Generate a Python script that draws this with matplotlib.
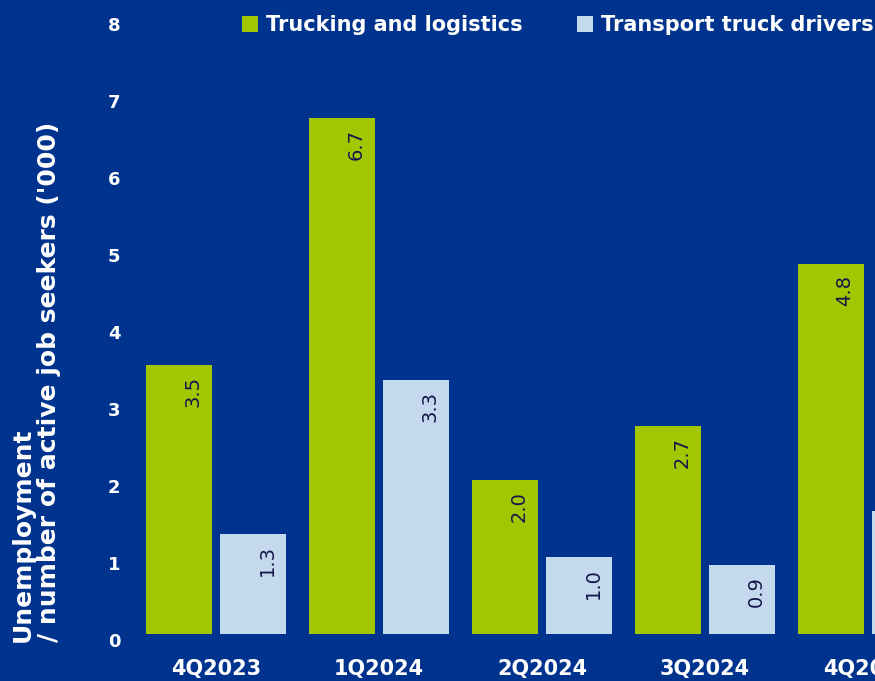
import numpy as np
import matplotlib.pyplot as plt
from matplotlib.transforms import ScaledTranslation

# data
quarters = ["4Q2023", "1Q2024", "2Q2024", "3Q2024", "4Q2024"]
trucking = [3.5, 6.7, 2.0, 2.7, 4.8]
drivers = [1.3, 3.3, 1.0, 0.9, 1.6]

BG = "#00338d"
GREEN = "#a2c600"
LIGHT = "#c5d9ee"
DARK = "#14164a"

plt.rcParams["font.family"] = ["DejaVu Sans"]

fig = plt.figure(figsize=(8.75, 6.81), dpi=100, facecolor=BG)
W, H = 875, 681
left, right, bottom, top = 130, 875, 634, 18
ax = fig.add_axes([left / W, 1 - bottom / H, (right - left) / W, (bottom - top) / H])
ax.set_facecolor(BG)

x = np.arange(len(quarters))
off = 37 / 163
bw = 66 / 163
ax.bar(x - off, trucking, bw, color=GREEN, label="Trucking and logistics")
ax.bar(x + off, drivers, bw, color=LIGHT, label="Transport truck drivers")

for xi, v in zip(x, trucking):
    ax.annotate(f"{v:.1f}", (xi - off, v), xytext=(14, -11), textcoords="offset pixels",
                rotation=90, ha="center", va="top", fontsize=14, color=DARK)
for xi, v in zip(x, drivers):
    ax.annotate(f"{v:.1f}", (xi + off, v), xytext=(14, -11), textcoords="offset pixels",
                rotation=90, ha="center", va="top", fontsize=14, color=DARK)

ax.set_xlim(-(216 - left) / 163, (right - 216) / 163)
ax.set_ylim(0, 8)
ax.set_yticks(range(0, 9))
ax.set_xticks(x)
ax.set_xticklabels(quarters)
ax.tick_params(length=0, colors="white")
ax.tick_params(axis="y", pad=7, labelsize=13)
ax.tick_params(axis="x", pad=18, labelsize=15)
for lab in ax.get_xticklabels() + ax.get_yticklabels():
    lab.set_fontweight("bold")
for lab in ax.get_yticklabels():
    lab.set_transform(lab.get_transform() + ScaledTranslation(0, -0.06, fig.dpi_scale_trans))
for s in ax.spines.values():
    s.set_visible(False)

fig.text(11 / W, 1 - 642 / H, "Unemployment\n/ number of active job seekers ('000)",
         rotation=90, ha="left", va="bottom", multialignment="left",
         fontsize=18, fontweight="bold", color="white", linespacing=1.08)

leg = fig.legend(loc="upper left", bbox_to_anchor=(242 / W, 1 - 15 / H), ncol=2,
                 frameon=False, fontsize=15, handlelength=0.77, handleheight=0.77,
                 handletextpad=0.38, columnspacing=2.6, borderaxespad=0, borderpad=0)
for t in leg.get_texts():
    t.set_color("white")
    t.set_fontweight("bold")

fig.savefig("out.png", dpi=100, facecolor=BG)
